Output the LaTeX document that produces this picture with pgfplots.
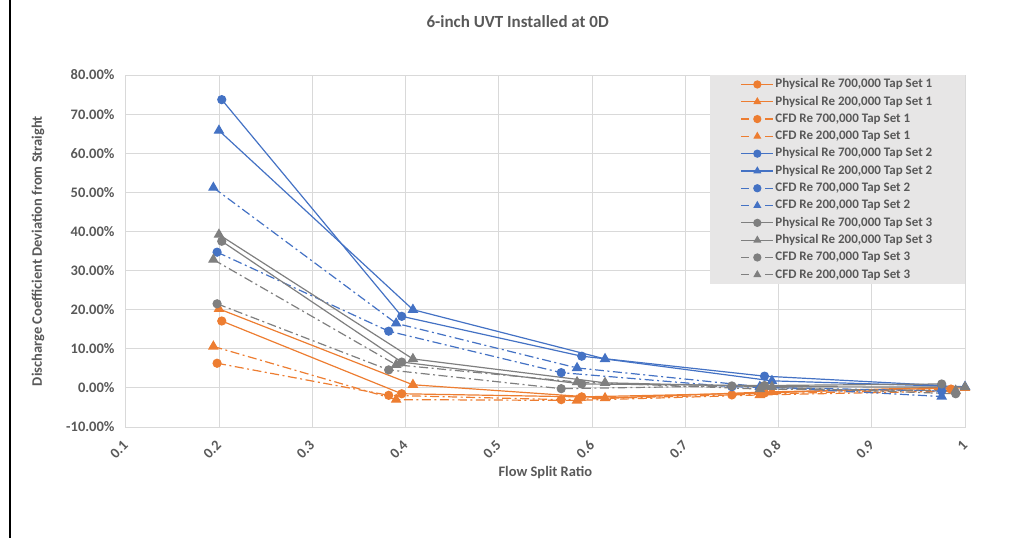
\documentclass[border=0pt]{standalone}
\usepackage{pgfplots}
\pgfplotsset{compat=1.18}
\usepackage{fontspec}
\setmainfont{Carlito}
\definecolor{cOr}{HTML}{ED7D31}
\definecolor{cBl}{HTML}{4472C4}
\definecolor{cGr}{HTML}{7F7F7F}
\definecolor{txt}{HTML}{595959}
\definecolor{grd}{HTML}{D9D9D9}
\definecolor{legbg}{HTML}{E7E6E6}
\tikzset{
  phys/.style={solid, line width=1.2bp},
  cfd/.style={line width=1.2bp, dash pattern=on 9bp off 3.5bp on 2bp off 3.5bp},
  circ/.style={mark=*, mark size=4bp, mark options={solid}},
  tri/.style={mark=triangle*, mark size=5bp, mark options={solid}},
}
\pgfplotsset{
  cfdleg/.style={legend image post style={dash pattern=on 8bp off 16bp}},
}
\begin{document}
\begin{tikzpicture}
\path[use as bounding box] (0,0) rectangle (1018bp,538bp);
\draw[black, line width=1.2bp] (10bp,0) -- (10bp,538bp);
\begin{axis}[
  at={(125.7bp,111bp)}, anchor=south west,
  width=839.3bp, height=352bp, scale only axis,
  xmin=0.1, xmax=1, ymin=-10, ymax=80,
  xtick={0.1,0.2,0.3,0.4,0.5,0.6,0.7,0.8,0.9,1},
  xticklabels={0.1,0.2,0.3,0.4,0.5,0.6,0.7,0.8,0.9,1},
  ytick={-10,0,10,20,30,40,50,60,70,80},
  yticklabels={-10.00\%,0.00\%,10.00\%,20.00\%,30.00\%,40.00\%,50.00\%,60.00\%,70.00\%,80.00\%},
  grid=major, major grid style={draw=grd, line width=0.8bp},
  axis line style={draw=grd, line width=0.8bp},
  major tick length=0pt,
  clip=false,
  tick label style={font=\fontsize{14.5bp}{16bp}\selectfont\bfseries, text=txt},
  yticklabel style={anchor=east, inner sep=0pt, xshift=-11bp},
  xticklabel style={yshift=-16bp, rotate=45, anchor=east, inner sep=0pt},
  xlabel={Flow Split Ratio},
  ylabel={Discharge Coefficient Deviation from Straight},
  label style={font=\fontsize{14.5bp}{16bp}\selectfont\bfseries, text=txt},
  xlabel style={at={(axis description cs:0.5,-0.128)}, anchor=center},
  ylabel style={at={(axis description cs:-0.1045,0.5)}, anchor=center, rotate=0},
  title={6-inch UVT Installed at 0D},
  title style={at={(axis description cs:0.467,1.134)}, anchor=center, font=\fontsize{17bp}{19bp}\selectfont\bfseries, text=txt},
  legend style={at={(axis description cs:1,1)}, anchor=north east, fill=legbg, draw=none,
    inner xsep=31bp, inner ysep=1.5bp, row sep=1.8bp,
    font=\fontsize{13bp}{14bp}\selectfont\bfseries, text=txt,
    nodes={inner sep=1.5bp, text height=9.5bp, text depth=3bp}},
  legend cell align=left,
  legend image code/.code={\draw[mark repeat=2,mark phase=2,mark size=3.5bp] plot coordinates {(0bp,0bp) (16bp,0bp) (32bp,0bp)};},
]
% Tap Set 1
\addplot[color=cOr, phys, circ] coordinates {(0.203,17.1) (0.396,-1.5) (0.589,-2.3) (0.785,-1.3) (0.975,0.2)};
\addlegendentry{Physical Re 700,000 Tap Set 1}
\addplot[color=cOr, phys, tri] coordinates {(0.200,20.2) (0.408,0.8) (0.614,-2.6) (0.793,-1.0) (1.0,0.0)};
\addlegendentry{Physical Re 200,000 Tap Set 1}
\addplot[color=cOr, cfd, circ, cfdleg] coordinates {(0.198,6.3) (0.382,-1.9) (0.567,-3.0) (0.75,-1.8) (0.985,-0.3)};
\addlegendentry{CFD Re 700,000 Tap Set 1}
\addplot[color=cOr, cfd, tri, cfdleg] coordinates {(0.194,10.6) (0.390,-3.0) (0.584,-3.2) (0.78,-1.8) (0.99,-0.8)};
\addlegendentry{CFD Re 200,000 Tap Set 1}
% Tap Set 2
\addplot[color=cBl, phys, circ] coordinates {(0.203,73.7) (0.396,18.3) (0.589,8.1) (0.785,3.0) (0.975,0.6)};
\addlegendentry{Physical Re 700,000 Tap Set 2}
\addplot[color=cBl, phys, tri] coordinates {(0.200,65.8) (0.408,20.0) (0.614,7.4) (0.793,1.8) (1.0,0.3)};
\addlegendentry{Physical Re 200,000 Tap Set 2}
\addplot[color=cBl, cfd, circ, cfdleg] coordinates {(0.198,34.7) (0.382,14.5) (0.567,3.9) (0.75,0.3) (0.975,-0.8)};
\addlegendentry{CFD Re 700,000 Tap Set 2}
\addplot[color=cBl, cfd, tri, cfdleg] coordinates {(0.194,51.2) (0.390,16.5) (0.584,5.1) (0.78,0.3) (0.975,-2.2)};
\addlegendentry{CFD Re 200,000 Tap Set 2}
% Tap Set 3
\addplot[color=cGr, phys, circ] coordinates {(0.203,37.5) (0.396,6.6) (0.589,1.0) (0.785,0.6) (0.975,1.0)};
\addlegendentry{Physical Re 700,000 Tap Set 3}
\addplot[color=cGr, phys, tri] coordinates {(0.200,39.2) (0.408,7.4) (0.614,1.3) (0.793,0.3) (1.0,0.2)};
\addlegendentry{Physical Re 200,000 Tap Set 3}
\addplot[color=cGr, cfd, circ, cfdleg] coordinates {(0.198,21.5) (0.382,4.6) (0.567,-0.2) (0.75,0.5) (0.99,-1.5)};
\addlegendentry{CFD Re 700,000 Tap Set 3}
\addplot[color=cGr, cfd, tri, cfdleg] coordinates {(0.194,32.8) (0.390,5.9) (0.584,1.5) (0.78,-0.3) (0.99,-0.7)};
\addlegendentry{CFD Re 200,000 Tap Set 3}
\end{axis}
\end{tikzpicture}
\end{document}
